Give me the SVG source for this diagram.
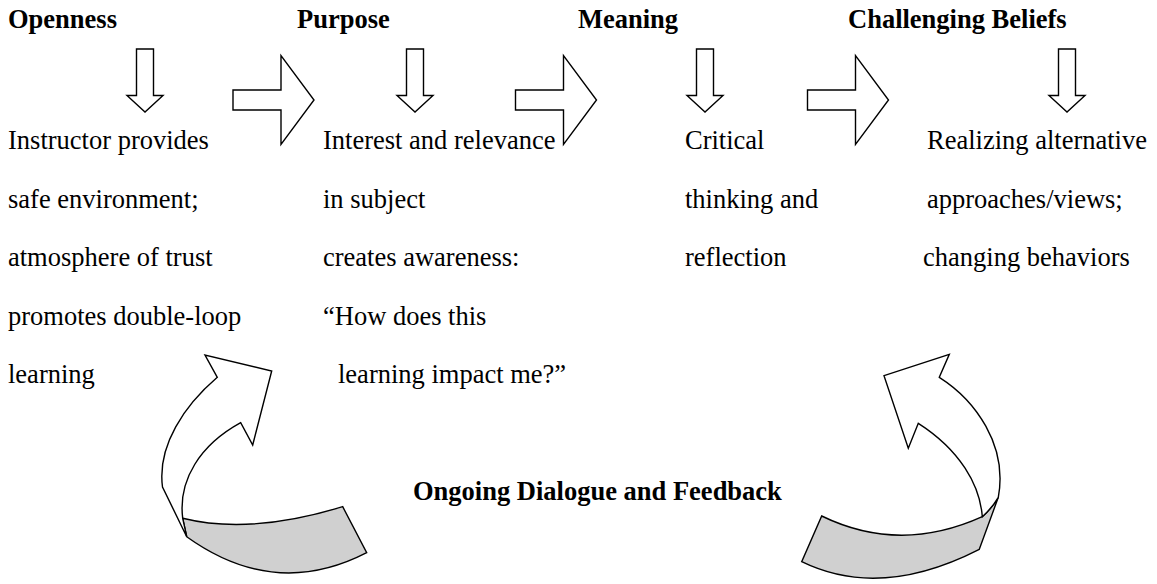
<svg xmlns="http://www.w3.org/2000/svg" width="1157" height="584" viewBox="0 0 1157 584">
<style>
text{font-family:"Liberation Serif","Times New Roman",serif;font-size:26.5px;fill:#000}
.h{font-weight:bold}
.shape{fill:#fff;stroke:#000;stroke-width:1.4;stroke-linejoin:miter}
.band{fill:#d0d0d0;stroke:#000;stroke-width:1.4;stroke-linejoin:miter}
</style>
<defs>
<path id="down" d="M-8.5,0 H8.5 V46.5 H18 L0,63 L-18,46.5 H-8.5 Z"/>
<path id="right" d="M0,-10 H48 V-44.5 L81,0 L48,44.5 V10 H0 Z"/>
</defs>
<rect width="1157" height="584" fill="#fff"/>
<g id="node-openness">
<text class="h" x="8" y="28">Openness</text>
<use href="#down" class="shape" x="145" y="49"/>
<text x="8" y="149">Instructor provides</text>
<text x="8" y="207.5">safe environment;</text>
<text x="8" y="266">atmosphere of trust</text>
<text x="8" y="324.5">promotes double-loop</text>
<text x="8" y="383">learning</text>
</g>
<g id="node-purpose">
<text class="h" x="297" y="28">Purpose</text>
<use href="#down" class="shape" x="415" y="49"/>
<text x="323" y="149">Interest and relevance</text>
<text x="323" y="207.5">in subject</text>
<text x="323" y="266">creates awareness:</text>
<text x="323" y="324.5">“How does this</text>
<text x="338" y="383">learning impact me?”</text>
</g>
<g id="node-meaning">
<text class="h" x="578" y="28">Meaning</text>
<use href="#down" class="shape" x="705" y="49"/>
<text x="685" y="149">Critical</text>
<text x="685" y="207.5">thinking and</text>
<text x="685" y="266">reflection</text>
</g>
<g id="node-challenging">
<text class="h" x="848" y="28">Challenging Beliefs</text>
<use href="#down" class="shape" x="1067" y="49"/>
<text x="927" y="149">Realizing alternative</text>
<text x="927" y="207.5">approaches/views;</text>
<text x="923" y="266">changing behaviors</text>
</g>
<g id="node-dialogue">
<text class="h" x="413" y="500">Ongoing Dialogue and Feedback</text>
</g>
<g id="connectors">
<use href="#right" class="shape" x="233" y="100"/>
<use href="#right" class="shape" x="515.5" y="100"/>
<use href="#right" class="shape" x="807.5" y="100"/>
<path class="band" d="M182.7,518.3 Q250,535 342.7,506.7 L366.7,552.7 Q275,600 186.7,536.7 Z"/>
<path class="shape" d="M217.3,377.3 C185,405 157,445 162.5,487 L186.7,536.7 L182.7,518.3 C178,480 200,445 240.7,422.7 L252.7,445 L271.7,371 L205,355 Z"/>
<path class="band" d="M821.7,516 Q900,554 982.3,516.7 Q992,508 998.3,497.3 L979.3,549.3 Q880,600 801.7,561.7 Z"/>
<path class="shape" d="M939.3,377.3 C975,400 1008,445 998.3,497.3 Q992,508 982.3,516.7 C980,485 960,450 918.3,423.3 L908.3,448.3 L884,375.7 L949.3,354.3 Z"/>
</g>
</svg>
